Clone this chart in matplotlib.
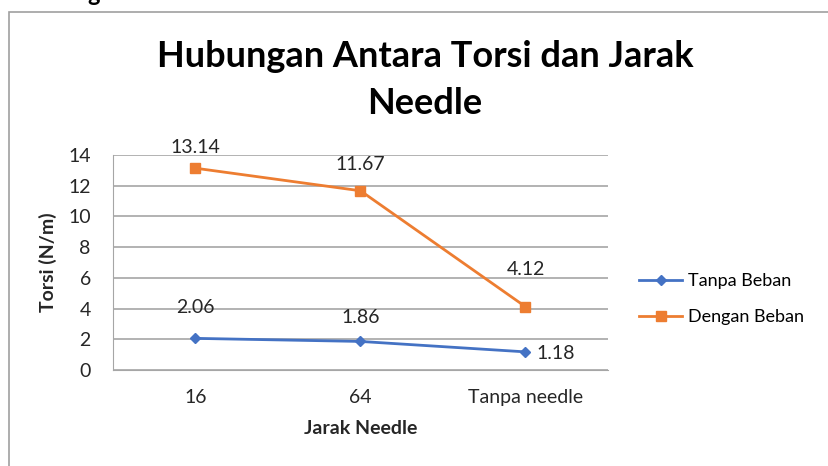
import matplotlib.pyplot as plt
from matplotlib.patches import Rectangle

plt.rcParams['font.family'] = ['Lato', 'DejaVu Sans']

kategori = ['16', '64', 'Tanpa needle']
tanpa_beban = [2.06, 1.86, 1.18]
dengan_beban = [13.14, 11.67, 4.12]

fig = plt.figure(figsize=(8.29, 4.66), dpi=100)
# bingkai grafik (terpotong di kanan dan bawah)
fig.patches.append(Rectangle((9/829, -0.1), 1.2, 1 - 12/466 + 0.1,
                             transform=fig.transFigure, fill=False,
                             edgecolor='#a0a0a0', lw=1.2))
# sisa teks dokumen di atas grafik
fig.text(87/829, 1 - 1/466, 'g', ha='left', va='baseline', fontsize=17,
         fontweight='bold')

ax = fig.add_axes([113/829, 1 - 370/466, (608 - 113)/829, (370 - 155)/466])
x = range(len(kategori))
ax.plot(x, tanpa_beban, '-D', color='#4472C4', lw=2, ms=5, label='Tanpa Beban')
ax.plot(x, dengan_beban, '-s', color='#ED7D31', lw=2, ms=7, label='Dengan Beban')

ax.set_xlim(-0.5, 2.5)
ax.set_ylim(0, 14)
ax.set_yticks(range(0, 15, 2))
ax.set_xticks(list(x))
ax.set_xticklabels(kategori)
ax.grid(axis='y', color='#a6a6a6', lw=1.2)
ax.set_axisbelow(True)
for s in ['top', 'right']:
    ax.spines[s].set_visible(False)
ax.spines['left'].set_color('#a6a6a6')
ax.spines['bottom'].set_color('#a6a6a6')
ax.tick_params(length=0, labelsize=14, colors='#262626')
ax.tick_params(axis='y', pad=16)
ax.tick_params(axis='x', pad=14)

off_dengan = [15, 19, 27]
off_tanpa = [22, 17]
for i, v in enumerate(dengan_beban):
    ax.annotate(f'{v:.2f}', (i, v), xytext=(0, off_dengan[i]), textcoords='offset points',
                ha='center', va='center', fontsize=14, color='#262626')
for i, v in enumerate(tanpa_beban[:2]):
    ax.annotate(f'{v:.2f}', (i, v), xytext=(0, off_tanpa[i]), textcoords='offset points',
                ha='center', va='center', fontsize=14, color='#262626')
ax.annotate(f'{tanpa_beban[2]:.2f}', (2, tanpa_beban[2]), xytext=(8, -1),
            textcoords='offset points', ha='left', va='center', fontsize=14,
            color='#262626')

ax.set_ylabel('Torsi (N/m)', fontsize=14, fontweight='bold', color='#262626', labelpad=8)
ax.set_xlabel('Jarak Needle', fontsize=14, fontweight='bold', color='#262626', labelpad=10)

fig.text(425/829, 1 - 80/466, 'Hubungan Antara Torsi dan Jarak\nNeedle',
         ha='center', va='center', fontsize=26, fontweight='bold',
         linespacing=1.5)

ax.legend(loc='center left', bbox_to_anchor=(1.03, 0.33), frameon=False,
          fontsize=13, handlelength=2.4, labelspacing=1.1, handletextpad=0.3)

fig.savefig('out.png', dpi=100)
